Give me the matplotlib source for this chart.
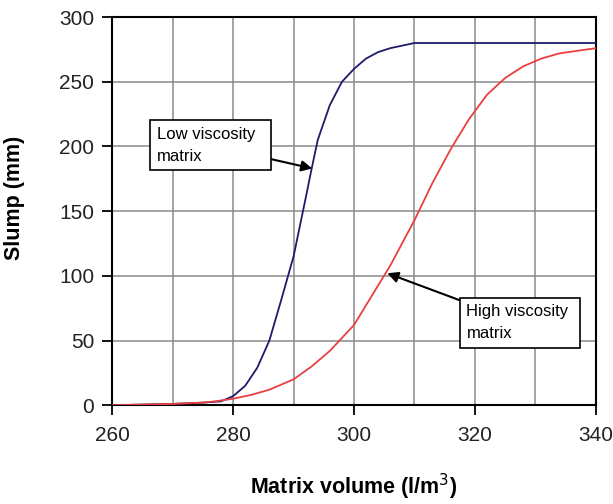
import matplotlib.pyplot as plt

plt.rcParams['font.family'] = ['Liberation Sans', 'DejaVu Sans']

# data
low_x = [260, 270, 275, 278, 280, 282, 284, 286, 288, 290, 292, 293, 294, 296, 298, 300, 302, 304, 306, 308, 310, 340]
low_y = [0, 1, 2, 3, 7, 15, 29, 50, 82, 115, 160, 183, 205, 232, 250, 260, 268, 273, 276, 278, 280, 280]

high_x = [260, 270, 275, 277, 280, 283, 286, 290, 293, 296, 300, 303, 306, 310, 313, 316, 319, 322, 325, 328, 331, 334, 337, 340]
high_y = [0, 1, 2, 3, 5, 8, 12, 20, 30, 42, 62, 85, 108, 143, 172, 198, 221, 240, 253, 262, 268, 272, 274, 276]

fig = plt.figure(figsize=(6.13, 5.04), dpi=100)
ax = fig.add_axes([0.183, 0.196, 0.789, 0.770])

ax.plot(low_x, low_y, color='#1c1c6b', linewidth=1.3, zorder=3)
ax.plot(high_x, high_y, color='#e8403f', linewidth=1.3, zorder=3)

ax.set_xlim(260, 340)
ax.set_ylim(0, 300)
ax.set_xticks([260, 280, 300, 320, 340])
ax.set_xticks(range(260, 341, 10), minor=True)
ax.set_yticks(range(0, 301, 50))
ax.grid(True, which='both', color='#8a8a8a', linewidth=1.1)
ax.set_axisbelow(True)
ax.tick_params(axis='both', which='major', labelsize=15, direction='out', length=7, width=1.3,
               colors='black', labelcolor='#222222')
ax.tick_params(axis='x', which='minor', length=0)
ax.tick_params(axis='x', pad=8)
ax.tick_params(axis='y', pad=6)
for s in ax.spines.values():
    s.set_linewidth(1.5)

ax.set_xlabel('Matrix volume (l/m$^3$)', fontsize=15.5, fontweight='bold', labelpad=19)
ax.set_ylabel('Slump (mm)', fontsize=15.5, fontweight='bold')
ax.yaxis.set_label_coords(-0.18, 0.534)

box = dict(boxstyle='square,pad=0.4', facecolor='white', edgecolor='black', linewidth=1.2)
arrow = dict(arrowstyle='-|>', color='black', linewidth=1.5, mutation_scale=16, shrinkA=0, shrinkB=0)

ax.annotate('Low viscosity  \nmatrix', xy=(293.1, 183), xytext=(267.4, 215),
            fontsize=12, ha='left', va='top', bbox=box, arrowprops=arrow, linespacing=1.55)
ax.annotate('High viscosity \nmatrix', xy=(305.5, 102), xytext=(318.6, 78),
            fontsize=12, ha='left', va='top', bbox=box, arrowprops=arrow, linespacing=1.55)

plt.savefig('out.png', dpi=100)
